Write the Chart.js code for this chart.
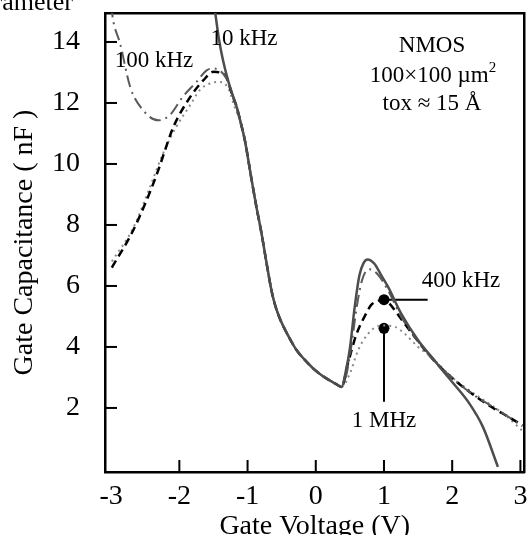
<!DOCTYPE html>
<html>
<head>
<meta charset="utf-8">
<script src="https://cdn.jsdelivr.net/npm/chart.js@4.4.0/dist/chart.umd.min.js"></script>
<style>
body { margin: 0; background: #fff; }
#wrap { width: 530px; height: 535px; position: relative; }
</style>
</head>
<body>
<div id="wrap"><canvas id="cv"></canvas></div>
<script>
const serif = '"Liberation Serif", "Times New Roman", serif';

// axis ticks
const xTicks = [-3, -2, -1, 0, 1, 2, 3];
const yTicks = [2, 4, 6, 8, 10, 12, 14];

// gate voltage (V), gate capacitance (nF)
const cv10k = [[-1.5,15.3],[-1.48,15.04],[-1.42,14.1],[-1.36,13.4],[-1.28,12.69],[-1.21,12.2],
  [-1.16,11.87],[-1.1,11.35],[-1.04,10.78],[-0.94,9.47],[-0.87,8.59],[-0.795,7.72],[-0.72,6.73],
  [-0.65,5.86],[-0.6,5.4],[-0.53,4.95],[-0.4,4.35],[-0.28,3.89],[-0.15,3.55],[-0.04,3.3],
  [0.1,3.05],[0.2,2.91],[0.3,2.78],[0.38,2.69],[0.44,3.2],[0.5,3.95],[0.57,5.3],[0.64,6.35],
  [0.7,6.75],[0.76,6.87],[0.86,6.73],[0.96,6.35],[1.06,5.97],[1.25,5.1],[1.5,4.22],[1.74,3.56],
  [1.85,3.25],[2.0,2.85],[2.25,2.15],[2.45,1.38],[2.67,0.07]];

const cv100k = [[-3.0,15.2],[-2.97,14.7],[-2.87,13.96],[-2.72,12.52],[-2.53,11.76],[-2.31,11.43],
  [-2.14,11.6],[-1.95,12.2],[-1.75,12.69],[-1.6,13.07],[-1.5,13.13],[-1.41,13.07],[-1.31,12.8],
  [-1.21,12.2],[-1.16,11.87],[-1.1,11.35],[-1.04,10.78],[-0.94,9.47],[-0.87,8.59],[-0.795,7.72],
  [-0.72,6.73],[-0.65,5.86],[-0.6,5.4],[-0.53,4.95],[-0.4,4.35],[-0.28,3.89],[-0.15,3.55],
  [-0.04,3.3],[0.1,3.05],[0.2,2.91],[0.3,2.78],[0.38,2.69],[0.45,3.1],[0.52,4.0],[0.6,5.3],
  [0.68,6.2],[0.78,6.55],[0.9,6.4],[1.06,5.85],[1.25,5.0],[1.5,4.18],[1.74,3.55],[2.0,2.98],
  [2.3,2.45],[2.6,2.03],[2.79,1.76],[3.03,1.4]];

const cv400k = [[-2.99,6.6],[-2.7,7.72],[-2.48,8.81],[-2.31,9.79],[-2.21,10.45],[-2.09,11.2],
  [-1.84,12.2],[-1.65,12.74],[-1.5,13.02],[-1.41,13.0],[-1.31,12.85],[-1.23,12.3],[-1.16,11.87],
  [-1.1,11.35],[-1.04,10.78],[-0.94,9.47],[-0.87,8.59],[-0.795,7.72],[-0.72,6.73],[-0.65,5.86],
  [-0.6,5.4],[-0.53,4.95],[-0.4,4.35],[-0.28,3.89],[-0.15,3.55],[-0.04,3.3],[0.1,3.05],[0.2,2.91],
  [0.3,2.78],[0.38,2.69],[0.47,3.45],[0.6,4.44],[0.74,5.1],[0.81,5.37],[0.9,5.5],[1.0,5.55],
  [1.08,5.42],[1.16,5.2],[1.3,4.77],[1.45,4.33],[1.6,3.9],[1.8,3.4],[2.0,2.98],[2.3,2.45],
  [2.6,2.0],[2.8,1.74],[3.03,1.43]];

const cv1M = [[-2.99,6.8],[-2.67,7.93],[-2.43,9.25],[-2.24,10.34],[-2.05,11.2],[-1.85,11.9],
  [-1.7,12.42],[-1.55,12.64],[-1.41,12.69],[-1.28,12.47],[-1.19,11.87],[-1.1,11.35],[-1.04,10.78],
  [-0.94,9.47],[-0.87,8.59],[-0.795,7.72],[-0.72,6.73],[-0.65,5.86],[-0.6,5.4],[-0.53,4.95],
  [-0.4,4.35],[-0.28,3.89],[-0.15,3.55],[-0.04,3.3],[0.1,3.05],[0.2,2.91],[0.3,2.78],[0.38,2.69],
  [0.5,3.13],[0.62,3.89],[0.77,4.44],[0.91,4.68],[1.0,4.7],[1.16,4.66],[1.3,4.44],[1.5,4.0],
  [1.69,3.67],[2.0,3.0],[2.3,2.5],[2.6,2.05],[2.8,1.72],[3.02,1.27]];

// label markers and their leader lines
const marker400k = [[1.0,5.55]];
const marker1M = [[1.0,4.61]];
const leader400k = [[1.0,5.55],[1.64,5.55]];
const leader1M = [[1.0,4.61],[1.0,2.2]];

const pts = arr => arr.map(p => ({x: p[0], y: p[1]}));

function curve(label, data, color, width, dash) {
  return {
    label: label, data: pts(data), borderColor: color, borderWidth: width,
    borderDash: dash, pointRadius: 0, fill: false, cubicInterpolationMode: 'monotone'
  };
}

// thin border-only axis used for the top and right edges of the box
function edgeAxis(position, min, max) {
  return {
    type: 'linear', position: position, min: min, max: max, display: true,
    grid: { display: false, drawTicks: false },
    ticks: { display: false },
    border: { display: true, color: '#000', width: 2.5 },
    afterFit: s => {
      if (s.isHorizontal()) { s.height = 0; s.paddingLeft = 0; s.paddingRight = 0; }
      else { s.width = 0; s.paddingTop = 0; s.paddingBottom = 0; }
    }
  };
}

const labelPlugin = {
  id: 'plotLabels',
  afterDraw(chart) {
    const ctx = chart.ctx;
    const xs = chart.scales.x, ys = chart.scales.y;
    const L = xs.getPixelForValue(xs.min), B = ys.getPixelForValue(ys.min);

    ctx.save();
    ctx.fillStyle = '#000';
    ctx.textBaseline = 'alphabetic';
    ctx.font = '23px ' + serif;
    ctx.textAlign = 'center';
    ctx.fillText('10 kHz', 244, 45);
    ctx.fillText('100 kHz', 154, 67);
    ctx.fillText('NMOS', 432, 52);
    ctx.fillText('tox \u2248 15 \u00C5', 432, 110);
    ctx.fillText('400 kHz', 461, 287);
    ctx.fillText('1 MHz', 384, 427);
    // 100x100 um^2 with superscript
    ctx.textAlign = 'left';
    const base = '100\u00D7100 \u00B5m';
    const w = ctx.measureText(base).width;
    ctx.font = '15px ' + serif;
    const w2 = ctx.measureText('2').width;
    const x0 = 433 - (w + w2) / 2;
    ctx.font = '23px ' + serif;
    ctx.fillText(base, x0, 82);
    ctx.font = '15px ' + serif;
    ctx.fillText('2', x0 + w, 72);

    // clipped heading at the top
    ctx.font = '26px ' + serif;
    ctx.textAlign = 'right';
    ctx.fillText('Parameter', 73, 10);

    // inward tick marks
    xTicks.forEach(v => {
      const px = xs.getPixelForValue(v);
      if (px - L < 8) return;
      ctx.fillRect(px - 1, B - 12, 2, 12);
    });
    yTicks.forEach(v => {
      const py = ys.getPixelForValue(v);
      ctx.fillRect(L, py - 1, 12, 2);
    });
    ctx.restore();
  }
};

new Chart(document.getElementById('cv'), {
  type: 'line',
  data: {
    datasets: [
      curve('10 kHz', cv10k, '#4d4d4d', 2.5, []),
      curve('100 kHz', cv100k, '#5a5a5a', 2, [12, 5, 2, 5]),
      curve('400 kHz', cv400k, '#000', 2.5, [8, 5]),
      curve('1 MHz', cv1M, '#8a8a8a', 2, [2, 4]),
      { data: pts(leader400k), borderColor: '#000', borderWidth: 2, pointRadius: 0 },
      { data: pts(leader1M), borderColor: '#000', borderWidth: 2, pointRadius: 0 },
      { type: 'scatter', data: pts(marker400k.concat(marker1M)), pointRadius: 5.5,
        backgroundColor: '#000', borderColor: '#000', borderWidth: 0 }
    ]
  },
  options: {
    responsive: true,
    maintainAspectRatio: false,
    animation: false,
    layout: { padding: { top: 13, right: 5, left: 0, bottom: 0 } },
    plugins: { legend: { display: false }, tooltip: { enabled: false } },
    scales: {
      x: {
        type: 'linear', position: 'bottom', min: -3.09, max: 3.06,
        afterBuildTicks: s => { s.ticks = xTicks.map(v => ({ value: v })); },
        afterFit: s => { s.height = 63; s.paddingLeft = 0; s.paddingRight = 0; },
        grid: { display: false, drawTicks: false },
        border: { display: true, color: '#000', width: 2.5 },
        ticks: { color: '#000', font: { family: serif, size: 28 }, padding: 8,
                 maxRotation: 0, autoSkip: false, callback: v => String(v) },
        title: { display: true, text: 'Gate Voltage (V)', color: '#000',
                 font: { family: serif, size: 28 }, padding: { top: 0, bottom: -8 } }
      },
      y: {
        type: 'linear', position: 'left', min: -0.1, max: 14.95,
        afterBuildTicks: s => { s.ticks = yTicks.map(v => ({ value: v })); },
        afterFit: s => { s.width = 105; s.paddingTop = 0; s.paddingBottom = 0; },
        grid: { display: false, drawTicks: false },
        border: { display: true, color: '#000', width: 2.5 },
        ticks: { color: '#000', font: { family: serif, size: 28 }, padding: 25,
                 autoSkip: false, callback: v => String(v) },
        title: { display: true, text: 'Gate Capacitance ( nF )', color: '#000',
                 font: { family: serif, size: 28 }, padding: { top: 8, bottom: 0 } }
      },
      xTop: edgeAxis('top', -3.09, 3.06),
      yRight: edgeAxis('right', -0.1, 14.95)
    }
  },
  plugins: [labelPlugin]
});
</script>
</body>
</html>
